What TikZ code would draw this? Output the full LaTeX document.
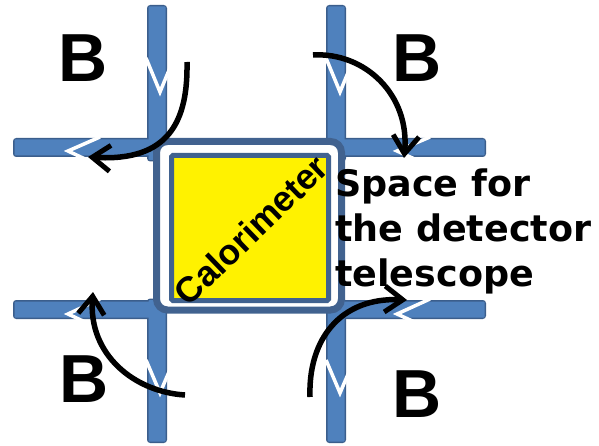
\documentclass[tikz,border=0pt]{standalone}
\usepackage{fontspec}
\usetikzlibrary{arrows.meta}
\newfontfamily\arialf{Liberation Sans}
\newfontfamily\dejaf{DejaVu Sans}
\definecolor{barfill}{HTML}{4F81BD}
\definecolor{barline}{HTML}{3B5E8C}
\definecolor{framecol}{HTML}{41628F}
\tikzset{
  barout/.style={draw=barline, line width=3pt, rounded corners=2pt},
  barin/.style={fill=barfill, rounded corners=1pt},
  chev/.style={draw=white, line width=3.5pt},
  flux/.style={draw=black, line width=5.5pt, -{Straight Barb[length=18pt,width=26pt,line width=5pt]}},
  blabel/.style={font=\arialf\bfseries\fontsize{68}{68}\selectfont, inner sep=0pt, anchor=base},
  txtline/.style={font=\dejaf\bfseries\fontsize{36.5}{45}\selectfont, inner sep=0pt, anchor=base west}
}
\begin{document}
\begin{tikzpicture}[x=1pt,y=-1pt]
\useasboundingbox (0,0) rectangle (599,446);
% bars: outlines then fills (union look)
\foreach \a/\b/\c/\d in {148.5/6.5/165.5/160, 14.5/139.5/165/155.5, 327.5/6.5/344.5/160, 330/139.5/484.5/155.5,
  14.5/301.5/165/317.5, 148.5/300/165.5/441.5, 330/301.5/484.5/317.5, 327.5/300/344.5/441.5}
  \path[barout] (\a,\b) rectangle (\c,\d);
\foreach \a/\b/\c/\d in {148.5/6.5/165.5/160, 14.5/139.5/165/155.5, 327.5/6.5/344.5/160, 330/139.5/484.5/155.5,
  14.5/301.5/165/317.5, 148.5/300/165.5/441.5, 330/301.5/484.5/317.5, 327.5/300/344.5/441.5}
  \path[barin] (\a,\b) rectangle (\c,\d);
% white chevrons on the bars
\path[chev] (146,58) -- (160,92) -- (174,58);
\path[chev] (326,58) -- (340,92) -- (354,58);
\path[chev] (146,360) -- (160,393) -- (174,360);
\path[chev] (326,360) -- (340,393) -- (354,360);
\path[chev] (100,137) -- (68,151) -- (100,166);
\path[chev] (430,137) -- (397,151) -- (430,166);
\path[chev] (100,299) -- (68,314) -- (100,329);
\path[chev] (430,299) -- (397,314) -- (430,329);
% frame and calorimeter
\path[draw=framecol, fill=white, line width=7pt, rounded corners=11pt] (156.5,141.5) rectangle (341.5,310);
\node[draw=framecol, fill=yellow, line width=5pt, rounded corners=1.5pt, minimum width=157pt, minimum height=145pt, inner sep=0pt] (cal) at (250,228) {};
\node[font=\arialf\bfseries\fontsize{35.5}{36}\selectfont, rotate=44, inner sep=0pt] (calt) at (251,230) {Calorimeter};
% text
\node[txtline] (t1) at (335,197) {Space for};
\node[txtline] (t2) at (335,242) {the detector};
\node[txtline] (t3) at (335,286) {telescope};
% B labels
\node[blabel] (b1) at (83,82) {B};
\node[blabel] (b2) at (417,82) {B};
\node[blabel] (b3) at (84,402) {B};
\node[blabel] (b4) at (417,417) {B};
% flux arrows
\coordinate (a1s) at (187,62);  \coordinate (a1e) at (88,157);
\coordinate (a2s) at (313,55);  \coordinate (a2e) at (404,158);
\coordinate (a3s) at (185,395); \coordinate (a3e) at (93,292);
\coordinate (a4s) at (310,397); \coordinate (a4e) at (407,300);
\path[flux] (a1s) .. controls (188,120) and (170,162) .. (a1e);
\path[flux] (a2s) .. controls (365,52) and (410,95) .. (a2e);
\path[flux] (a3s) .. controls (135,392) and (88,355) .. (a3e);
\path[flux] (a4s) .. controls (308,340) and (340,297) .. (a4e);
\end{tikzpicture}
\end{document}
